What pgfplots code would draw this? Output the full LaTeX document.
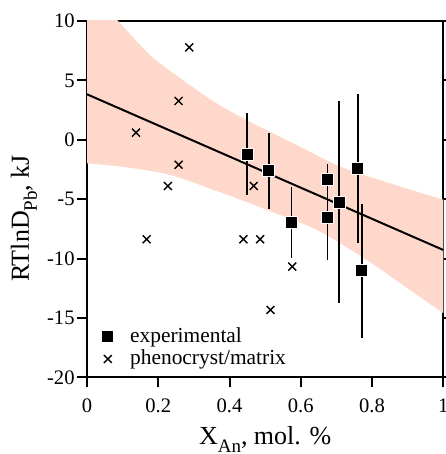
\documentclass[border=0pt]{standalone}
\usepackage{fontspec}
\setmainfont{Liberation Serif}
\usepackage{pgfplots}
\pgfplotsset{compat=1.18}
\usepgfplotslibrary{fillbetween}
\definecolor{band}{RGB}{255,216,204}

\newcommand{\sub}[1]{\raisebox{-0.3em}{\fontsize{9.5bp}{9.5bp}\selectfont #1}}

\begin{document}
\begin{tikzpicture}
\begin{axis}[
  scale only axis,
  width=178.15bp, height=178.15bp,
  xmin=0, xmax=1, ymin=-20, ymax=10,
  xtick={0,0.2,0.4,0.6,0.8,1},
  ytick={-20,-15,-10,-5,0,5,10},
  xtick pos=bottom, ytick pos=both, yticklabel pos=left,
  tick align=outside,
  major tick length=5bp,
  axis line style={line width=1bp},
  every tick/.style={black, line width=1bp},
  /pgf/number format/assume math mode=true,
  tick label style={font=\fontsize{10.3bp}{12bp}\selectfont},
  yticklabel style={inner sep=1bp},
  xticklabel style={inner sep=0pt, yshift=-5.5bp},
  xlabel={X\sub{An}, mol. \%},
  ylabel={RTlnD\sub{Pb}, kJ},
  label style={font=\fontsize{13bp}{15bp}\selectfont},
  xlabel style={at={(axis description cs:0.5,0)}, anchor=base, yshift=-33.85bp},
  ylabel style={at={(axis description cs:0,0.446)}, anchor=base, yshift=29bp},
  legend style={draw=none, fill=none, inner sep=0pt,
    font=\fontsize{10.7bp}{12bp}\selectfont,
    at={(axis description cs:0,0)}, anchor=south west,
    xshift=4bp, yshift=2.5bp, row sep=-1.5bp},
  legend cell align=left,
  legend image code/.code={\path (0bp,0bp) (15bp,0bp); \draw[#1] plot coordinates {(6bp,0bp)};},
]
% confidence band
\addplot[name path=up, draw=none, smooth, forget plot] coordinates {
  (0,12.6) (0.089,9.94) (0.14,8.26) (0.187,6.86) (0.262,5.18) (0.356,3.21)
  (0.457,1.52) (0.598,-0.58) (0.71,-2.26) (0.85,-3.66) (1.0,-5.05)};
\addplot[name path=lo, draw=none, smooth, forget plot] coordinates {
  (0,-1.98) (0.112,-2.32) (0.234,-2.96) (0.356,-4.23) (0.457,-5.35) (0.505,-5.91)
  (0.645,-7.59) (0.785,-10.12) (0.906,-12.64) (1.0,-14.6)};
\addplot[band, forget plot] fill between[of=up and lo];

% regression line
\addplot[black, line width=1bp, forget plot] coordinates {(0,3.83) (1,-9.28)};

% experimental
\addplot[only marks, mark=square*, mark size=3bp,
  mark options={fill=black, draw=white, line width=0.5bp},
  error bars/.cd, y dir=both, y explicit, error mark=none,
  error bar style={line width=0.85bp, black}]
  coordinates {
  (0.450,-1.22) +- (0,3.45)
  (0.510,-2.60) +- (0,3.2)
  (0.574,-6.95) +- (0,3.0)
  (0.675,-3.33) +- (0,1.3)
  (0.675,-6.56) +- (0,3.55)
  (0.708,-5.26) +- (0,8.5)
  (0.760,-2.43) +- (0,6.3)
  (0.771,-11.02) +- (0,5.65)
};
\addlegendentry{experimental}

% phenocryst/matrix
\addplot[only marks, mark=x, mark size=2.8bp, mark options={line width=0.7bp, black}]
  coordinates {
  (0.287,7.78) (0.257,3.27) (0.1375,0.6) (0.257,-2.1) (0.227,-3.89)
  (0.1675,-8.38) (0.468,-3.89) (0.439,-8.38) (0.486,-8.38) (0.576,-10.68)
  (0.515,-14.33)
};
\addlegendentry{phenocryst/matrix}
\end{axis}
\pgfresetboundingbox
\path ([xshift=-43.5bp,yshift=-38.35bp]current axis.south west) rectangle ([xshift=1.35bp,yshift=10.5bp]current axis.north east);
\end{tikzpicture}
\end{document}
